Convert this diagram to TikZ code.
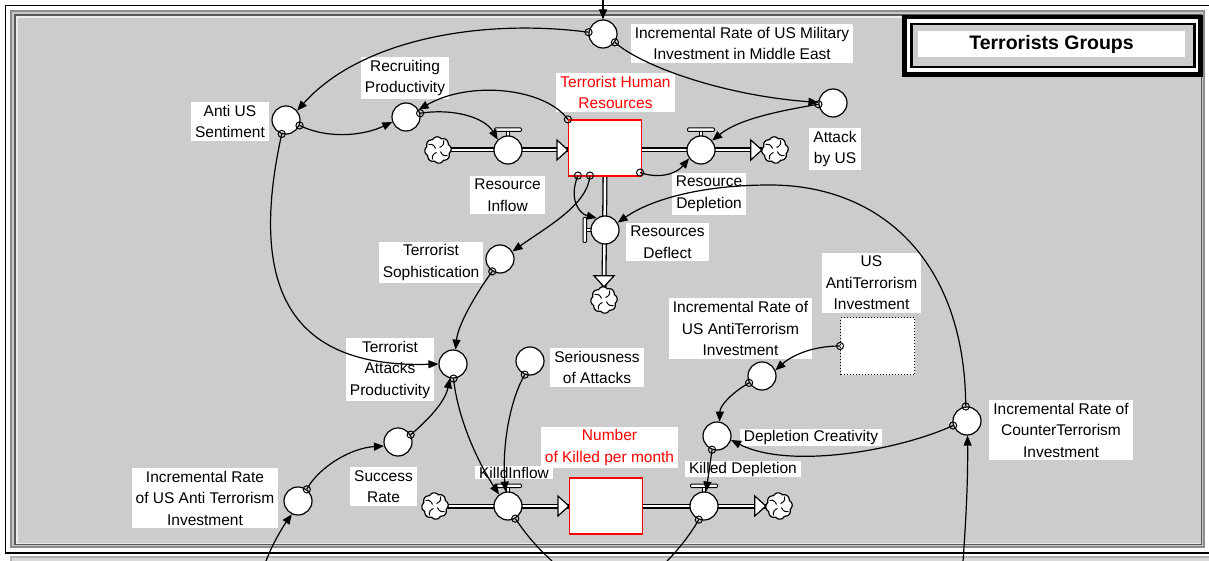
\documentclass[tikz,border=0pt]{standalone}
\usepackage{fontspec}
\setmainfont{Liberation Sans}
\usetikzlibrary{arrows.meta,calc}
\definecolor{panel}{HTML}{CCCCCC}
\definecolor{sdred}{HTML}{FF0000}
\newcommand\lblfont{\fontsize{15.5}{21.5}\selectfont}
\newcommand\ttlfont{\fontsize{19.5}{22}\selectfont\bfseries}
\newcommand\lorig[1]{\draw[line width=1pt] (#1) circle[radius=3.6pt];}
\tikzset{
  aux/.style={circle,draw,fill=white,line width=1.2pt,minimum size=28pt,inner sep=0pt},
  stockbox/.style={rectangle,draw=sdred,fill=white,line width=1.2pt,minimum width=73pt,minimum height=56pt,inner sep=0pt},
  ghostbox/.style={rectangle,draw,dotted,fill=white,line width=1pt,minimum width=74pt,minimum height=57pt,inner sep=0pt},
  lbl/.style={fill=white,align=center,font=\lblfont,inner xsep=4pt,inner ysep=3pt,text=black},
  redlbl/.style={lbl,text=sdred},
  sinkcloud/.style={circle,minimum size=26pt,inner sep=0pt},
  link/.style={line width=1.2pt,-{Triangle[length=10pt,width=8pt]}},
  pipe/.style={double=white,double distance=2.4pt,line width=1.3pt},
  hollowtip/.style={draw,fill=white,line width=1.2pt,line join=miter},
  valvetop/.pic={\draw[fill=white,line width=1pt,rounded corners=1pt] (-13.5,-22) rectangle (13.5,-18.5);
                 \draw[fill=white,line width=1pt] (-1.6,-18.5) rectangle (1.6,-13);},
  valveleft/.pic={\draw[fill=white,line width=1pt,rounded corners=1pt] (-22,-12.5) rectangle (-18.5,12.5);
                  \draw[fill=white,line width=1pt] (-18.5,-1.6) rectangle (-13,1.6);},
  cloudpic/.pic={\draw[fill=white,line width=1.2pt,domain=0:360,samples=145,variable=\t]
                   plot ({(11.6+1.6*abs(cos(4*\t+22.5)))*cos(\t)},{(11.6+1.6*abs(cos(4*\t+22.5)))*sin(\t)}) -- cycle;
                 \foreach \a in {0,90,180,270}{\draw[rotate=\a,line width=1pt] (1.5,-2.5) .. controls (4.5,-3.5) and (6.5,-6) .. (5.5,-9.5);}}
}
\begin{document}
\begin{tikzpicture}[x=1pt,y=-1pt]
\useasboundingbox (0,0) rectangle (1209,561);
\clip (0,0) rectangle (1209,561);
% ---- frame
\fill[white] (0,0) rectangle (1209,561);
\fill[black!45] (10,10) rectangle (1205,548);
\fill[black!22] (12,12) rectangle (1203,546);
\fill[black!65] (14,14) rectangle (1202,545);
\fill[white!85!gray] (16,16) rectangle (1201,544);
\fill[panel] (18,18) rectangle (1201,543);
\fill[black!30] (10,556) rectangle (1209,561);
\fill[black!15] (12,558) rectangle (1209,561);
\draw[line width=1.5pt] (5,5.5) -- (1209,5.5);
\draw[line width=1.5pt] (5.5,5) -- (5.5,553);
\draw[line width=1.5pt] (5,553) -- (1209,553);
% ---- title box
\fill[black] (902,15) rectangle (1203,77);
\fill[white] (907,19) rectangle (1198,72);
\fill[black] (910,23) rectangle (1196,68);
\fill[panel] (913,25) rectangle (1193,66);
\node[fill=white,minimum width=267pt,minimum height=26pt,inner sep=0pt,font=\ttlfont] (title) at (1051.5,44) {Terrorists Groups};
% ---- sources / sinks and stocks
\node[sinkcloud] (cl1) at (438,150) {};
\node[sinkcloud] (cl2) at (775,150) {};
\node[sinkcloud] (cl3) at (604,300) {};
\node[sinkcloud] (cl4) at (435,506) {};
\node[sinkcloud] (cl5) at (779,506) {};
\node[stockbox] (thr) at (605,148) {};
\node[stockbox] (nkm) at (606,506) {};
\coordinate (rin) at (508,150);
\coordinate (rdp) at (701,150);
\coordinate (rdf) at (605,230);
\coordinate (kin) at (508,506);
\coordinate (kdp) at (704,506);
% ---- pipes
\draw[pipe] (cl1.east) -- (rin -| thr.west);
\draw[pipe] (rdp -| thr.east) -- (rdp -| cl2.west);
\draw[pipe] (thr.south) -- (cl3.north);
\draw[pipe] (cl4.east) -- (kin -| nkm.west);
\draw[pipe] (kdp -| nkm.east) -- (kdp -| cl5.west);
\draw[hollowtip] ($(rin -| thr.west)+(-11,-10)$) -- (rin -| thr.west) -- ($(rin -| thr.west)+(-11,10)$) -- cycle;
\draw[hollowtip] ($(rdp -| cl2.west)+(-11,-10)$) -- (rdp -| cl2.west) -- ($(rdp -| cl2.west)+(-11,10)$) -- cycle;
\draw[hollowtip] ($(cl3.north)+(-10,-11)$) -- (cl3.north) -- ($(cl3.north)+(10,-11)$) -- cycle;
\draw[hollowtip] ($(kin -| nkm.west)+(-11,-10)$) -- (kin -| nkm.west) -- ($(kin -| nkm.west)+(-11,10)$) -- cycle;
\draw[hollowtip] ($(kdp -| cl5.west)+(-11,-10)$) -- (kdp -| cl5.west) -- ($(kdp -| cl5.west)+(-11,10)$) -- cycle;
\node[stockbox] (thr) at (605,148) {};
\node[stockbox] (nkm) at (606,506) {};
\foreach \c in {cl1,cl2,cl3,cl4,cl5}{\pic at (\c) {cloudpic};}
% ---- valves
\pic at (rin) {valvetop};
\pic at (rdp) {valvetop};
\pic at (kin) {valvetop};
\pic at (kdp) {valvetop};
\pic at (rdf) {valveleft};
\node[aux] (rin) at (508,150) {};
\node[aux] (rdp) at (701,150) {};
\node[aux] (rdf) at (605,230) {};
\node[aux] (kin) at (508,506) {};
\node[aux] (kdp) at (704,506) {};
% ---- auxiliaries
\node[aux] (irm) at (603,34) {};
\node[aux] (att) at (833,103) {};
\node[aux] (ant) at (286,120) {};
\node[aux] (rec) at (406,117) {};
\node[aux] (sop) at (500,259) {};
\node[aux] (tap) at (453,364) {};
\node[aux] (ser) at (530,361) {};
\node[aux] (suc) at (398,442) {};
\node[aux] (ila) at (298,501) {};
\node[aux] (dcr) at (717,436) {};
\node[aux] (imr) at (762,376) {};
\node[aux] (ict) at (967,421) {};
\node[ghostbox] (uai) at (877.5,346) {};
% ---- labels
\node[lbl] (lirm) at (742,43.5) {Incremental Rate of US Military\\Investment in Middle East};
\node[lbl] (latt) at (835,149) {Attack\\by US};
\node[lbl] (lant) at (230,121.5) {Anti US\\Sentiment};
\node[lbl] (lrec) at (405,78) {Recruiting\\Productivity};
\node[redlbl] (lthr) at (615.5,92.5) {Terrorist Human\\Resources};
\node[lbl] (lrin) at (507.5,195) {Resource\\Inflow};
\node[lbl] (lrdp) at (709,194) {Resource\\Depletion};
\node[lbl] (lrdf) at (667.5,242) {Resources\\Deflect};
\node[lbl] (lsop) at (431,262.5) {Terrorist\\Sophistication};
\node[lbl] (ltap) at (390,369.5) {Terrorist\\Attacks\\Productivity};
\node[lbl] (lser) at (597,367.5) {Seriousness\\of Attacks};
\node[lbl] (lsuc) at (383.5,486.5) {Success\\Rate};
\node[lbl] (lila) at (205,498) {Incremental Rate\\of US Anti Terrorism\\Investment};
\node[lbl,inner ysep=1pt] (lkin) at (514,472.5) {KilldInflow};
\node[redlbl] (lnkm) at (609.5,447.5) {Number\\of Killed per month};
\node[lbl,inner ysep=1pt] (lkdp) at (743,469) {Killed Depletion};
\node[lbl,inner ysep=1pt] (ldcr) at (811,437.5) {Depletion Creativity};
\node[lbl] (limr) at (740.5,328.5) {Incremental Rate of\\US AntiTerrorism\\Investment};
\node[lbl] (luai) at (871.5,283) {US\\AntiTerrorism\\Investment};
\node[lbl] (lict) at (1061,430) {Incremental Rate of\\CounterTerrorism\\Investment};
% ---- free ends
\coordinate (topin) at (603,0);
\coordinate (b1) at (266,561);
\coordinate (b2) at (963,561);
\coordinate (b3) at (552,561);
\coordinate (b4) at (667,561);
\coordinate (thrnw) at ($(thr.north west)+(0,0)$);
\coordinate (thrse) at ($(thr.south east)+(-2,-4)$);
\coordinate (thrs1) at ($(thr.south west)+(10,-1)$);
\coordinate (thrs2) at ($(thr.south west)+(22,-1)$);
% ---- links
\draw[link] (topin) -- (irm.north);
\draw[link] (irm.173) .. controls (480,18) and (360,40) .. (ant.40);
\draw[link] (irm.-35) .. controls (640,65) and (720,95) .. (att.178);
\draw[link] (att.185) .. controls (785,110) and (740,118) .. (rdp.40);
\draw[link] (ant.-22) .. controls (330,140) and (365,135) .. (rec.200);
\draw[link] (rec.15) .. controls (455,108) and (485,118) .. (rin.135);
\draw[link] (thrnw) .. controls (545,88) and (470,80) .. (rec.30);
\draw[link] (thrse) .. controls (662,180) and (678,172) .. (rdp.215);
\draw[link] (thrs1) .. controls (568,200) and (580,214) .. (rdf.125);
\draw[link] (thrs2) .. controls (588,205) and (545,228) .. (sop.31);
\draw[link] (ict.95) .. controls (965,260) and (880,185) .. (770,185) .. controls (700,185) and (650,200) .. (rdf.30);
\draw[link] (ant.253) .. controls (245,300) and (300,368) .. (tap.180);
\draw[link] (sop.238) .. controls (475,295) and (458,325) .. (tap.80);
\draw[link] (suc.30) .. controls (428,420) and (445,402) .. (tap.258);
\draw[link] (tap.272) .. controls (458,420) and (478,462) .. (kin.128);
\draw[link] (ser.249) .. controls (510,400) and (502,445) .. (kin.100);
\draw[link] (ila.53) .. controls (318,468) and (350,448) .. (suc.196);
\draw[link] (b1) .. controls (272,545) and (282,528) .. (ila.245);
\draw[link] (uai.west) .. controls (810,346) and (790,357) .. (imr.23);
\draw[link] (imr.208) .. controls (733,392) and (720,405) .. (dcr.80);
\draw[link] (ict.198) .. controls (900,450) and (790,470) .. (dcr.-16);
\draw[link] (dcr.250) .. controls (710,465) and (708,478) .. (kdp.82);
\draw[link] (b2) .. controls (966,520) and (968,480) .. (ict.272);
\draw[line width=1.2pt] (kin.-60) .. controls (530,540) and (540,550) .. (b3);
\draw[line width=1.2pt] (kdp.249) .. controls (690,535) and (678,550) .. (b4);
% ---- link origins
\foreach \p in {irm.173,irm.-35,att.185,ant.-22,rec.15,thrnw,thrse,thrs1,thrs2,ict.95,ant.253,sop.238,suc.30,tap.272,ser.249,ila.53,uai.west,imr.208,ict.198,dcr.250,kin.-60,kdp.249}{\lorig{\p}}
\end{tikzpicture}
\end{document}
